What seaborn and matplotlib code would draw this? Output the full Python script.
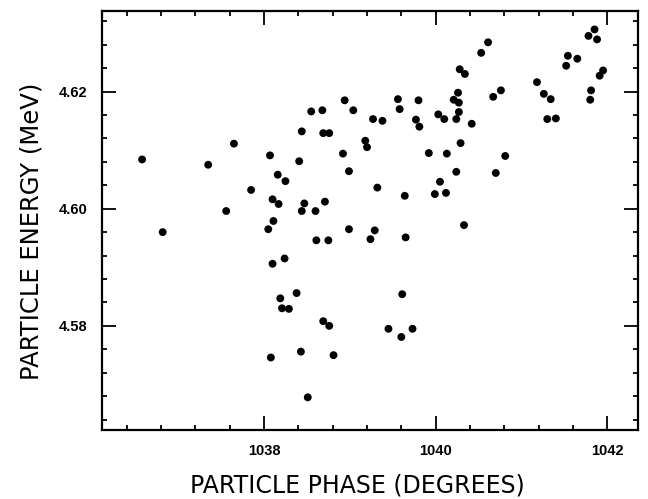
import matplotlib
matplotlib.use('Agg')
import matplotlib.pyplot as plt
from matplotlib.ticker import MultipleLocator, FormatStrFormatter
import seaborn as sns
import pandas as pd

# phase (degrees) and energy (MeV)
phase = [
    1036.58, 1037.35, 1037.65, 1037.85, 1037.56, 1038.07, 1038.16, 1038.25, 1038.10, 1038.17,
    1038.44, 1038.55, 1038.68, 1038.69, 1038.76, 1038.94, 1039.04, 1039.27, 1039.18, 1039.20,
    1038.92, 1038.99, 1038.41, 1039.32, 1038.47, 1038.44, 1038.60, 1038.71, 1039.38, 1039.56,
    1039.58, 1039.80, 1039.77, 1039.81, 1040.03, 1040.10, 1040.28, 1040.34, 1040.26, 1040.21,
    1040.27, 1040.27, 1040.24, 1040.42, 1040.53, 1040.61, 1040.67, 1040.76, 1040.29, 1039.92,
    1040.13, 1040.24, 1040.05, 1039.99, 1040.12, 1040.70, 1040.81, 1039.64, 1041.18, 1041.26,
    1041.34, 1041.30, 1041.40, 1041.52, 1041.54, 1041.65, 1041.78, 1041.85, 1041.88, 1041.91,
    1041.95, 1041.81, 1041.80, 1036.82, 1038.11, 1038.05, 1038.61, 1038.75, 1038.99, 1039.24,
    1039.29, 1038.10, 1038.24, 1038.19, 1038.38, 1038.21, 1038.29, 1038.69, 1038.76, 1038.08,
    1038.43, 1038.81, 1038.51, 1039.65, 1040.33, 1039.61, 1039.45, 1039.60, 1039.73,
]
energy = [
    4.6084, 4.6075, 4.6111, 4.6032, 4.5996, 4.6091, 4.6058, 4.6047, 4.6016, 4.6008,
    4.6132, 4.6166, 4.6168, 4.6129, 4.6129, 4.6185, 4.6168, 4.6153, 4.6116, 4.6105,
    4.6094, 4.6064, 4.6081, 4.6036, 4.6009, 4.5996, 4.5996, 4.6012, 4.6150, 4.6187,
    4.6170, 4.6185, 4.6152, 4.6140, 4.6161, 4.6153, 4.6238, 4.6230, 4.6198, 4.6186,
    4.6181, 4.6165, 4.6153, 4.6145, 4.6266, 4.6284, 4.6191, 4.6202, 4.6112, 4.6095,
    4.6094, 4.6063, 4.6046, 4.6025, 4.6027, 4.6061, 4.6090, 4.6022, 4.6216, 4.6196,
    4.6187, 4.6153, 4.6154, 4.6244, 4.6261, 4.6256, 4.6295, 4.6306, 4.6289, 4.6227,
    4.6236, 4.6202, 4.6186, 4.5960, 4.5979, 4.5965, 4.5946, 4.5946, 4.5965, 4.5948,
    4.5963, 4.5906, 4.5915, 4.5847, 4.5856, 4.5830, 4.5829, 4.5808, 4.5800, 4.5746,
    4.5756, 4.5750, 4.5678, 4.5951, 4.5972, 4.5854, 4.5795, 4.5781, 4.5795,
]

df = pd.DataFrame({'phase': phase, 'energy': energy})

sns.set_style("ticks")
plt.rcParams['font.family'] = ['Liberation Sans', 'DejaVu Sans']
plt.rcParams['text.color'] = 'black'
plt.rcParams['axes.labelcolor'] = 'black'

fig = plt.figure(figsize=(6.48, 4.99), dpi=100)
ax = fig.add_axes([0.157, 0.138, 0.828, 0.8406])

sns.scatterplot(data=df, x='phase', y='energy', ax=ax, color='black',
                s=32, edgecolor='none', linewidth=0)

ax.set_xlim(1036.11, 1042.36)
ax.set_ylim(4.5622, 4.6338)

ax.xaxis.set_major_locator(MultipleLocator(2))
ax.xaxis.set_minor_locator(MultipleLocator(0.4))
ax.yaxis.set_major_locator(MultipleLocator(0.02))
ax.yaxis.set_minor_locator(MultipleLocator(0.004))
ax.yaxis.set_major_formatter(FormatStrFormatter('%.2f'))

ax.tick_params(which='both', direction='in', top=True, right=True,
               width=1.3, colors='black')
ax.tick_params(which='major', length=10, labelsize=10.5, pad=10)
ax.tick_params(which='minor', length=3.5)
for lab in ax.get_xticklabels() + ax.get_yticklabels():
    lab.set_fontweight('bold')

for sp in ax.spines.values():
    sp.set_linewidth(1.6)
    sp.set_color('black')

# axis titles in a wider face, placed where the scan has them
ax.set_xlabel('PARTICLE PHASE (DEGREES)', fontsize=17, family='DejaVu Sans')
ax.set_ylabel('PARTICLE ENERGY (MeV)', fontsize=17.5, family='DejaVu Sans')
ax.xaxis.set_label_coords(0.476, -0.103)
ax.yaxis.set_label_coords(-0.108, 0.473)

fig.savefig('out.png', dpi=100)
